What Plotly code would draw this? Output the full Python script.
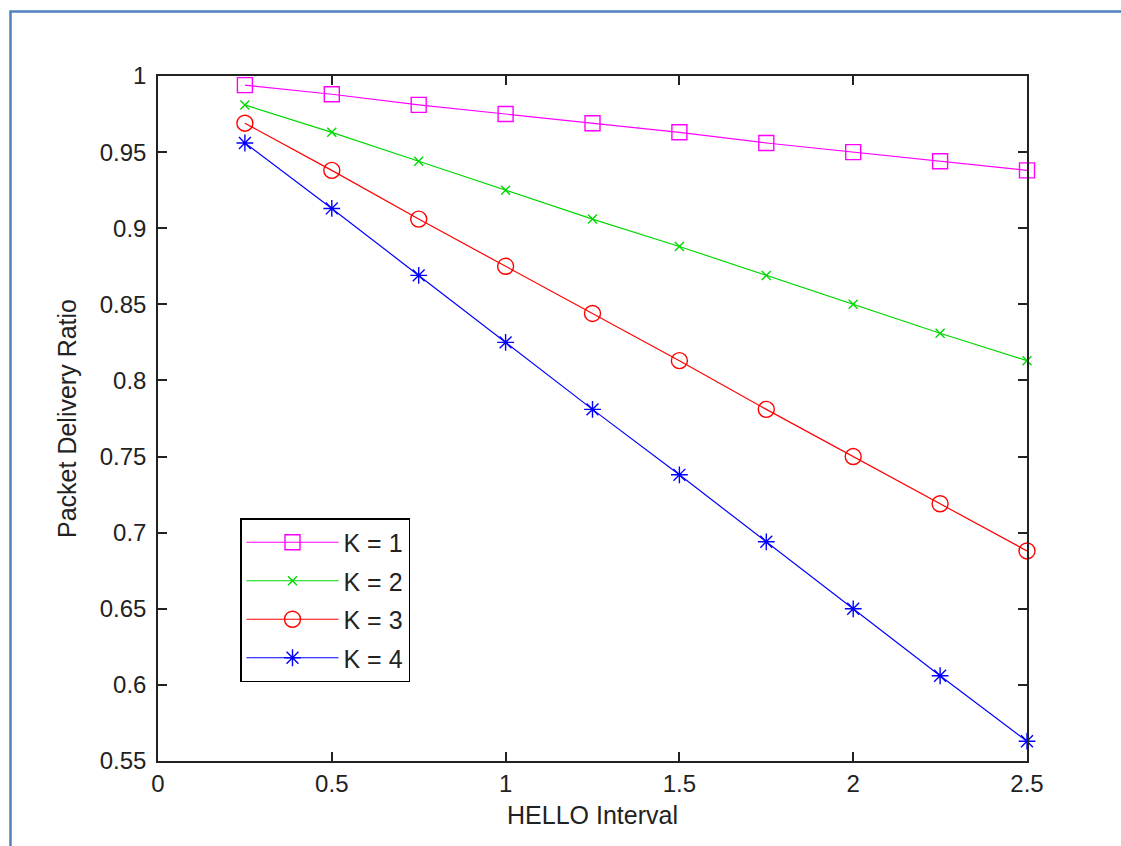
import plotly.graph_objects as go

hello_interval = [0.25, 0.5, 0.75, 1.0, 1.25, 1.5, 1.75, 2.0, 2.25, 2.5]
k1 = [0.994, 0.988, 0.981, 0.975, 0.969, 0.963, 0.956, 0.950, 0.944, 0.938]
k2 = [0.981, 0.963, 0.944, 0.925, 0.906, 0.888, 0.869, 0.850, 0.831, 0.813]
k3 = [0.969, 0.938, 0.906, 0.875, 0.844, 0.813, 0.781, 0.750, 0.719, 0.688]
k4 = [0.956, 0.913, 0.869, 0.825, 0.781, 0.738, 0.694, 0.650, 0.606, 0.563]

series_names = ["K = 1", "K = 2", "K = 3", "K = 4"]
series_values = [k1, k2, k3, k4]
colors = ["#ff00ff", "#00d800", "#ff0000", "#0000ff"]
symbols = ["square-open", "x-thin-open", "circle-open", "asterisk-open"]
sizes = [15, 9, 16, 14]

x_ticks = [0, 0.5, 1, 1.5, 2, 2.5]
x_tick_labels = ["0", "0.5", "1", "1.5", "2", "2.5"]
y_ticks = [0.55, 0.6, 0.65, 0.7, 0.75, 0.8, 0.85, 0.9, 0.95, 1.0]
y_tick_labels = ["0.55", "0.6", "0.65", "0.7", "0.75", "0.8", "0.85", "0.9", "0.95", "1"]

FONT = "Liberation Sans, Arial, sans-serif"

fig = go.Figure()
for name, vals, c, s, sz in zip(series_names, series_values, colors, symbols, sizes):
    fig.add_trace(go.Scatter(
        x=hello_interval, y=vals, name=name, mode="lines+markers",
        legendgroup=name,
        line=dict(color=c, width=1.2),
        marker=dict(symbol=s, size=sz, color=c, line=dict(color=c, width=1.4)),
        cliponaxis=False,
    ))

W, H = 1121, 846
L, R, T, B = 158, 94, 76, 85
pw, ph = W - L - R, H - T - B

def px_x(p):
    return (p - L) / pw

def px_y(p):
    return (H - B - p) / ph

fig.add_shape(type="rect", xref="paper", yref="paper",
              x0=px_x(10.5), x1=px_x(1140), y0=px_y(870), y1=px_y(11.5),
              line=dict(color="#4f81bd", width=2.5), fillcolor="rgba(0,0,0,0)", layer="below")

fig.update_layout(
    width=W, height=H,
    margin=dict(l=L, r=R, t=T, b=B, pad=0),
    paper_bgcolor="white", plot_bgcolor="white",
    font=dict(family=FONT, size=24, color="#222222"),
    showlegend=True,
    legend=dict(
        x=px_x(240), y=px_y(518), xanchor="left", yanchor="top",
        bgcolor="white", bordercolor="black", borderwidth=1.5,
        font=dict(family=FONT, size=25, color="#222222"),
        itemwidth=92, tracegroupgap=3,
    ),
    xaxis=dict(
        range=[0, 2.5], tickmode="array", tickvals=x_ticks, ticktext=x_tick_labels,
        showgrid=False, zeroline=False, showline=True, linecolor="#222222", linewidth=1.5,
        mirror="ticks", ticks="inside", ticklen=9, tickcolor="#222222", tickwidth=1.5,
        tickfont=dict(size=24),
        title=dict(text="HELLO Interval", standoff=11, font=dict(size=25)),
        ticklabelstandoff=0,
    ),
    yaxis=dict(
        range=[0.55, 1.0], tickmode="array", tickvals=y_ticks, ticktext=y_tick_labels,
        showgrid=False, zeroline=False, showline=True, linecolor="#222222", linewidth=1.5,
        mirror="ticks", ticks="inside", ticklen=9, tickcolor="#222222", tickwidth=1.5,
        tickfont=dict(size=24),
        title=dict(text="Packet Delivery Ratio", standoff=16, font=dict(size=25)),
        ticklabelstandoff=5,
    ),
)

fig.write_html("out.html")
